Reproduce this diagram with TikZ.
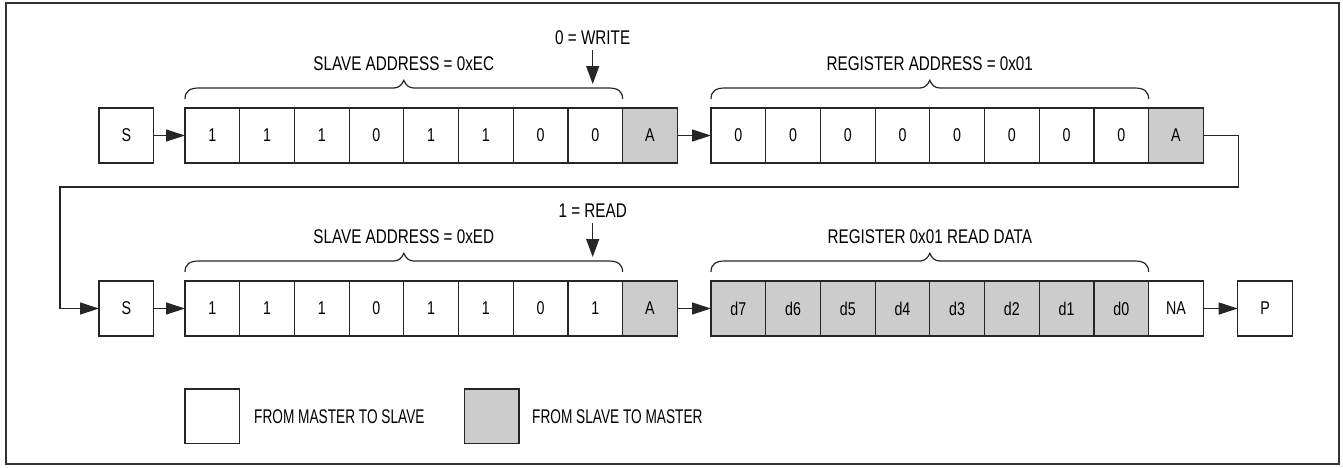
\documentclass[tikz,border=0pt]{standalone}
\usepackage{fontspec}
\setmainfont{Liberation Sans}[FakeStretch=0.77]
\newfontfamily\legfont{Liberation Sans}[FakeStretch=0.69]
\usetikzlibrary{arrows.meta}
\begin{document}
\begin{tikzpicture}[x=1pt,y=-1pt,
  ln/.style={draw=black!85, line width=1.2pt},
  cell/.style={ln, minimum width=54.7pt, minimum height=55pt, inner sep=0pt, outer sep=0pt,
    anchor=north west, font=\fontsize{18.5}{18.5}\selectfont},
  gcell/.style={cell, fill=black!20},
  arr/.style={ln, -{Triangle[length=19pt,width=12pt]}},
  varr/.style={ln, -{Triangle[length=18pt,width=13pt]}},
  lbl/.style={inner sep=0pt, anchor=base, font=\fontsize{19.8}{19.8}\selectfont},
  leg/.style={inner sep=0pt, anchor=base west, font=\legfont\fontsize{19.8}{19.8}\selectfont},
  brc/.style={ln, line width=1.2pt}
]
\useasboundingbox (0,0) rectangle (1343,467);
\draw[draw=black!80, line width=2pt] (6,3) rectangle (1339,464);

% row 1
\node[cell] (r1s) at (99,108) {S};
\foreach \v [count=\i from 0] in {1,1,1,0,1,1,0,0}
  \node[cell] (r1b\i) at ({185+\i*54.7},108) {\v};
\node[gcell] (r1a) at (622.6,108) {A};
\foreach \i in {0,...,7}
  \node[cell] (r1r\i) at ({711+\i*54.7},108) {0};
\node[gcell] (r1ra) at (1148.6,108) {A};

% row 2
\node[cell] (r2s) at (99,281) {S};
\foreach \v [count=\i from 0] in {1,1,1,0,1,1,0,1}
  \node[cell] (r2b\i) at ({185+\i*54.7},281) {\v};
\node[gcell] (r2a) at (622.6,281) {A};
\foreach \i in {0,...,7}{
  \pgfmathtruncatemacro\dd{7-\i}
  \node[gcell] (r2d\i) at ({711+\i*54.7},281) {d\dd};
}
\node[cell] (r2na) at (1148.6,281) {NA};
\node[cell] (r2p) at (1237.7,281) {P};

% connectors
\draw[arr] (r1s.east) -- (r1b0.west);
\draw[arr] (r1a.east) -- (r1r0.west);
\coordinate (t1) at (1238.7,187);
\coordinate (t2) at (60,187);
\draw[arr] (r1ra.east) -| (t1) -- (t2) |- (r2s.west);
\draw[arr] (r2s.east) -- (r2b0.west);
\draw[arr] (r2a.east) -- (r2d0.west);
\draw[arr] (r2na.east) -- (r2p.west);

% braces
\newcommand\mybrace[3]{%
  \pgfmathsetmacro\xm{(#1+#2)/2}%
  \draw[brc] (#1,#3+11) .. controls (#1,#3+3) and (#1+5,#3) .. (#1+14,#3)
    -- (\xm-10,#3) .. controls (\xm-5,#3) and (\xm-2,#3-3) .. (\xm,#3-7.7)
    .. controls (\xm+2,#3-3) and (\xm+5,#3) .. (\xm+10,#3)
    -- (#2-14,#3) .. controls (#2-5,#3) and (#2,#3+3) .. (#2,#3+11);}
\mybrace{185}{622.6}{88}
\mybrace{711}{1148.6}{88}
\mybrace{185}{622.6}{261}
\mybrace{711}{1148.6}{261}

% labels
\node[lbl] (l1) at (403.8,70) {SLAVE ADDRESS = 0xEC};
\node[lbl] (l2) at (929.8,70) {REGISTER ADDRESS = 0x01};
\node[lbl] (l3) at (403.8,243) {SLAVE ADDRESS = 0xED};
\node[lbl] (l4) at (929.8,243) {REGISTER 0x01 READ DATA};

\node[lbl] (w0) at (592.7,44) {0 = WRITE};
\coordinate (w0t) at (592.7,84);
\draw[varr] (592.7,50) -- (w0t);
\node[lbl] (w1) at (592.7,217) {1 = READ};
\coordinate (w1t) at (592.7,257);
\draw[varr] (592.7,223) -- (w1t);

% legend
\node[cell, minimum height=54.5pt] (lgw) at (185,389) {};
\node[leg] (lgwt) at (254,423) {FROM MASTER TO SLAVE};
\node[gcell, minimum height=54.5pt] (lgg) at (464.3,389) {};
\node[leg] (lggt) at (532,423) {FROM SLAVE TO MASTER};
\end{tikzpicture}
\end{document}
